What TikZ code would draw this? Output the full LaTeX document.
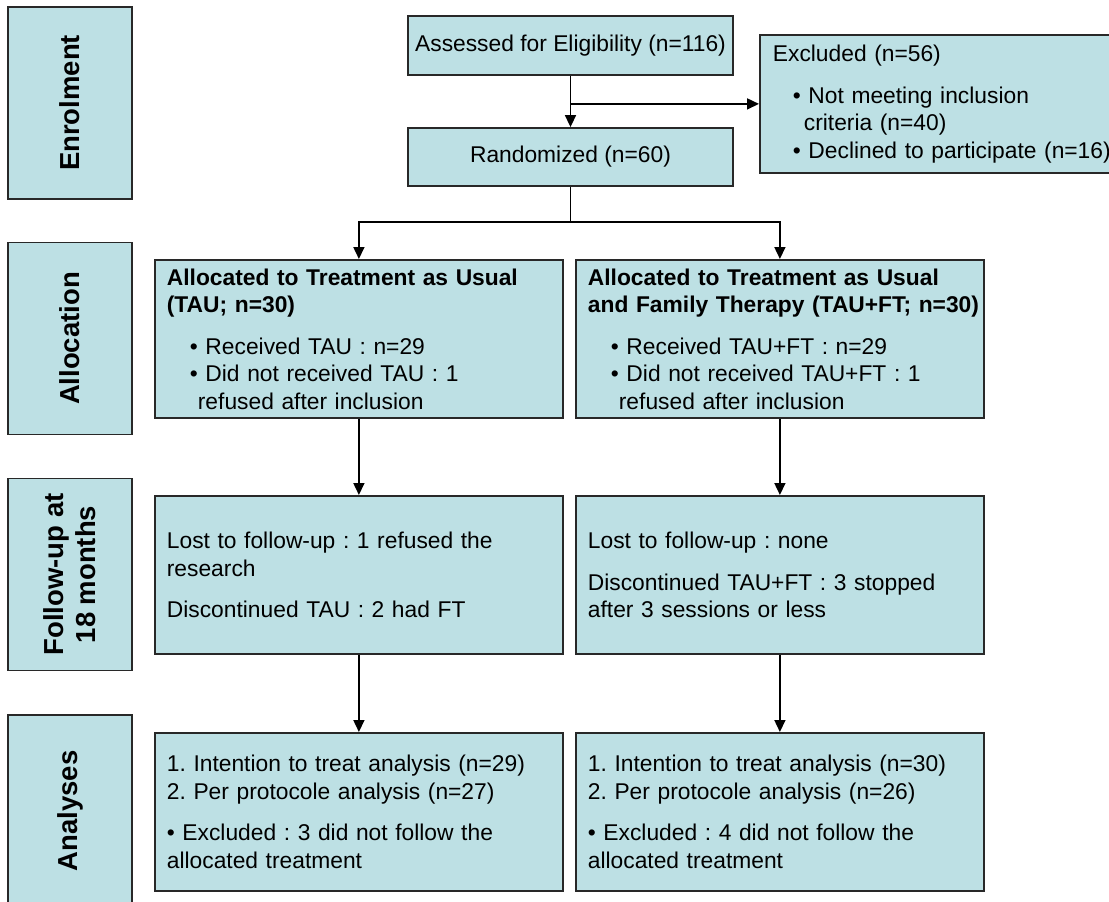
\documentclass[tikz,border=0pt]{standalone}
\usepackage{fontspec}
\setmainfont{Liberation Sans}
\usetikzlibrary{arrows.meta}
\definecolor{boxclr}{RGB}{189,224,228}
\definecolor{lineclr}{RGB}{40,40,40}
\newcommand{\txt}{\fontsize{22.8}{27.5}\selectfont}
\newcommand{\stagetxt}{\fontsize{27.5}{32}\selectfont\bfseries}
\frenchspacing

\begin{document}
\begin{tikzpicture}[x=1pt, y=-1pt, >={Triangle[length=12pt,width=11pt]}, line width=1.6pt]
\tikzstyle{stage}=[draw=lineclr, fill=boxclr, line width=1.8pt, rotate=90, minimum width=192pt, minimum height=124pt, align=center, font=\stagetxt]
\tikzstyle{box}=[draw=lineclr, fill=boxclr, line width=1.8pt, anchor=north west, inner xsep=12pt, inner ysep=0pt, minimum height=158pt, text width=384pt, align=left, font=\txt]
\tikzstyle{mid}=[draw=lineclr, fill=boxclr, line width=1.8pt, minimum width=325pt, font=\txt]
\tikzstyle{flow}=[->, black]
\useasboundingbox (0,0) rectangle (1109,902);

\node[stage] (enrol) at (70,103)   {Enrolment};
\node[stage] (alloc) at (70,338.5) {Allocation};
\node[stage] (follow) at (70,574.5) {Follow-up at\\18 months};
\node[stage] (anal) at (70,811)    {Analyses};

\node[mid, minimum height=59pt] (assess) at (570.5,45.5) {Assessed for Eligibility (n=116)};
\node[mid, minimum height=58pt] (rand)   at (570.5,157)  {Randomized (n=60)};
\node[box, minimum height=138pt, text width=340pt, inner xsep=13pt] (excl) at (759,34)
  {Excluded (n=56)\\[14pt]
   \hspace*{20pt}• Not meeting inclusion\\
   \hspace*{31pt}criteria (n=40)\\
   \hspace*{20pt}• Declined to participate (n=16)};

\node[box] (tau) at (154,259)
  {\textbf{Allocated to Treatment as Usual}\\
   \textbf{(TAU; n=30)}\\[14pt]
   \hspace*{23pt}• Received TAU : n=29\\
   \hspace*{23pt}• Did not received TAU : 1\\
   \hspace*{31pt}refused after inclusion};
\node[box] (tauft) at (575,259)
  {\textbf{Allocated to Treatment as Usual}\\
   \mbox{\textbf{and Family Therapy (TAU+FT; n=30)}}\\[14pt]
   \hspace*{23pt}• Received TAU+FT : n=29\\
   \hspace*{23pt}• Did not received TAU+FT : 1\\
   \hspace*{31pt}refused after inclusion};

\node[box] (futau) at (154,495)
  {Lost to follow-up : 1 refused the\\
   research\\[14pt]
   Discontinued TAU : 2 had FT};
\node[box] (futauft) at (575,495)
  {Lost to follow-up : none\\[14pt]
   Discontinued TAU+FT : 3 stopped\\
   after 3 sessions or less};

\node[box] (antau) at (154,732)
  {1. Intention to treat analysis (n=29)\\
   2. Per protocole analysis (n=27)\\[14pt]
   • Excluded : 3 did not follow the\\
   allocated treatment};
\node[box] (antauft) at (575,732)
  {1. Intention to treat analysis (n=30)\\
   2. Per protocole analysis (n=26)\\[14pt]
   • Excluded : 4 did not follow the\\
   allocated treatment};

\coordinate (split) at (570.5,222);
\draw[flow] (assess.south) -- (rand.north);
\draw[flow] (assess.south |- excl.west) -- (excl.west);
\draw (rand.south) -- (split);
\draw[flow] (split) -| (tau.north);
\draw[flow] (split) -| (tauft.north);
\draw[flow] (tau.south) -- (futau.north);
\draw[flow] (tauft.south) -- (futauft.north);
\draw[flow] (futau.south) -- (antau.north);
\draw[flow] (futauft.south) -- (antauft.north);
\end{tikzpicture}
\end{document}
